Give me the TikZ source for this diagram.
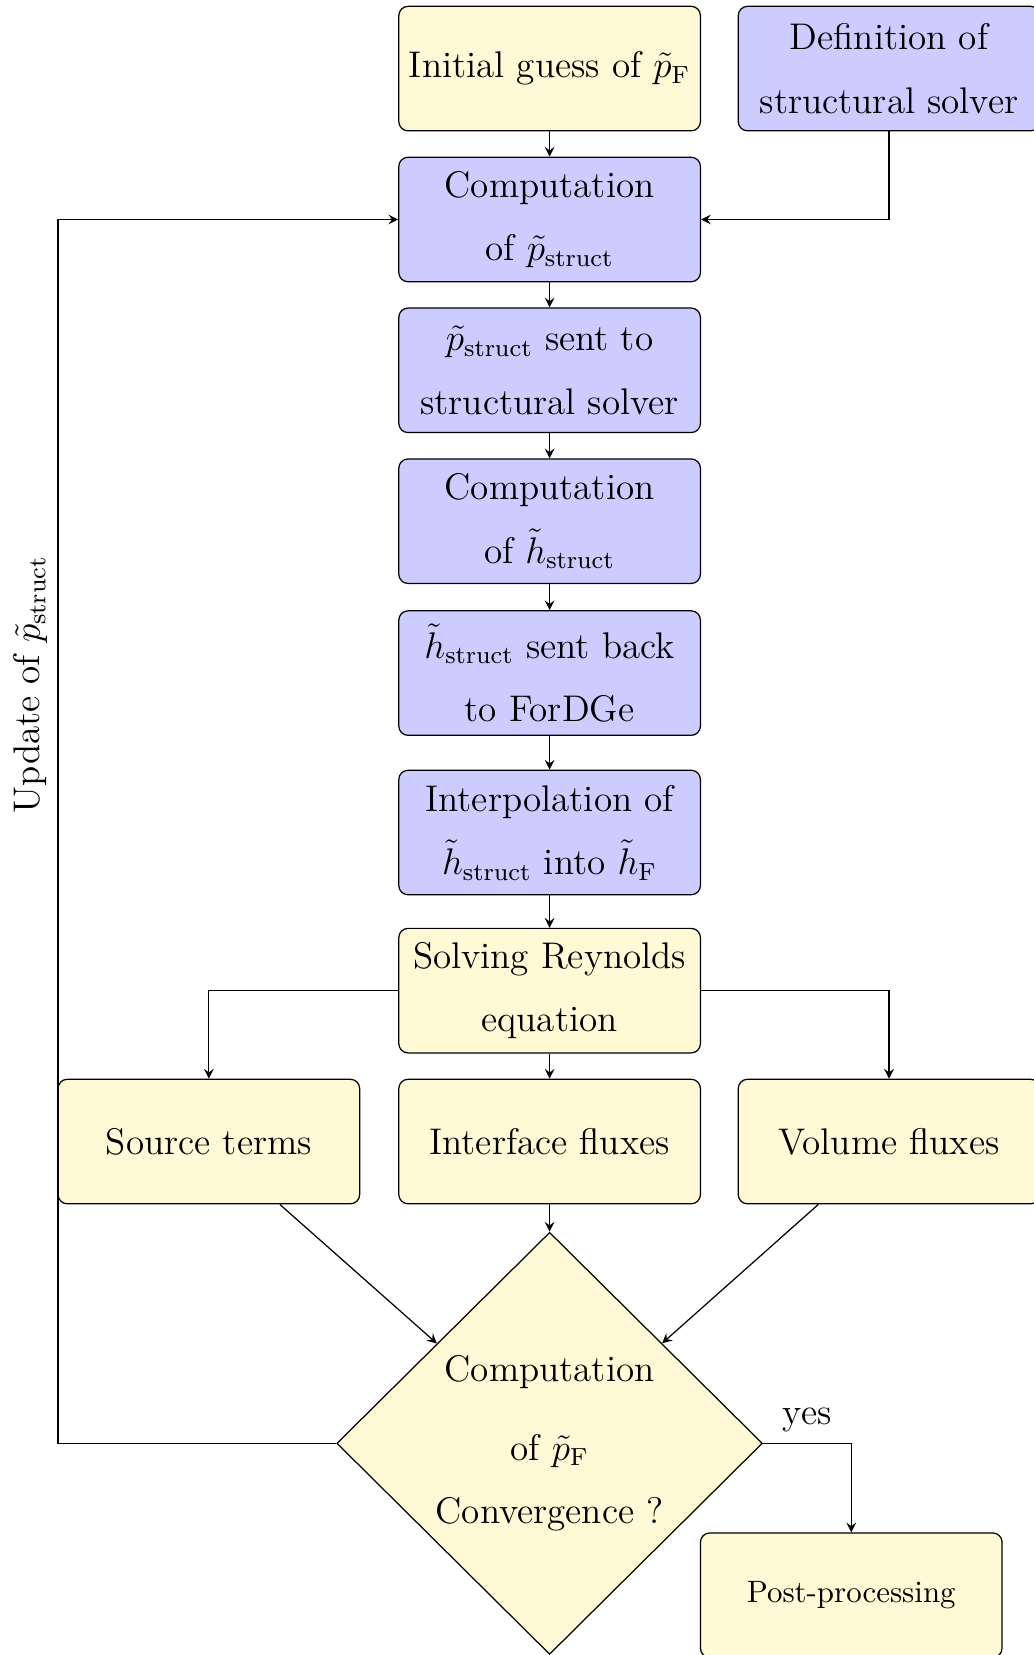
\documentclass[tikz,border=0pt]{standalone}
\usepackage{amsmath}
\usepackage{tikz}
\usetikzlibrary{shapes.geometric}

\definecolor{fluidyellow}{RGB}{255,249,214}
\definecolor{structblue}{RGB}{204,204,255}

\begin{document}
\begin{tikzpicture}[
        every node/.style={font=\fontsize{12}{20.5}\selectfont},
        box/.style={rectangle, draw, rounded corners=3pt, minimum width=3.43cm, minimum height=1.416cm, inner sep=2pt, align=center},
        fluidbox/.style={box, fill=fluidyellow},
        structbox/.style={box, fill=structblue},
        decision/.style={diamond, draw, fill=fluidyellow, minimum width=4.84cm, minimum height=4.8cm, inner sep=0pt, align=center},
        arr/.style={->, >=stealth}
    ]

    \useasboundingbox (0,0) rectangle (11.75,-18.82);

    % Entradas
    \node[fluidbox] (init) at (6.25,-0.78) {Initial guess of $\tilde{p}_\mathrm{F}$};
    \node[structbox] (def) at (10.11,-0.78) {Definition of\\structural solver};

    % Acoplamento com o solver estrutural
    \node[structbox] (compp) at (6.25,-2.496) {Computation\\of $\tilde{p}_\mathrm{struct}$};
    \node[structbox] (sentp) at (6.25,-4.211) {$\tilde{p}_\mathrm{struct}$ sent to\\structural solver};
    \node[structbox] (comph) at (6.25,-5.927) {Computation\\of $\tilde{h}_\mathrm{struct}$};
    \node[structbox] (senth) at (6.25,-7.654) {$\tilde{h}_\mathrm{struct}$ sent back\\to ForDGe};
    \node[structbox] (interp) at (6.25,-9.467) {Interpolation of\\$\tilde{h}_\mathrm{struct}$ into $\tilde{h}_\mathrm{F}$};

    % Reynolds
    \node[fluidbox] (reyn) at (6.25,-11.265) {Solving Reynolds\\equation};
    \node[fluidbox] (src) at (2.375,-12.981) {Source terms};
    \node[fluidbox] (iflux) at (6.25,-12.981) {Interface fluxes};
    \node[fluidbox] (vflux) at (10.11,-12.981) {Volume fluxes};

    % Convergencia
    \node[decision] (conv) at (6.25,-16.413) {Computation\\[5pt]of $\tilde{p}_\mathrm{F}$\\Convergence ?};
    \node[fluidbox, font=\fontsize{10}{12}\selectfont] (post) at (9.68,-18.14) {Post-processing};
    \coordinate (loop) at (0.66,0);

    \draw[arr] (init) -- (compp);
    \draw[arr] (def) |- (compp);
    \draw[arr] (compp) -- (sentp);
    \draw[arr] (sentp) -- (comph);
    \draw[arr] (comph) -- (senth);
    \draw[arr] (senth) -- (interp);
    \draw[arr] (interp) -- (reyn);
    \draw[arr] (reyn) -| (src);
    \draw[arr] (reyn) -- (iflux);
    \draw[arr] (reyn) -| (vflux);
    \draw[arr] (src) -- (conv);
    \draw[arr] (iflux) -- (conv);
    \draw[arr] (vflux) -- (conv);
    \draw[arr] (conv) -| node[pos=0.25, above] (yes) {yes} (post);
    \draw[arr] (conv.west) -- (conv.west -| loop) |- node[pos=0.31, sloped, above] (upd) {Update of $\tilde{p}_\mathrm{struct}$} (compp.west);

\end{tikzpicture}
\end{document}
